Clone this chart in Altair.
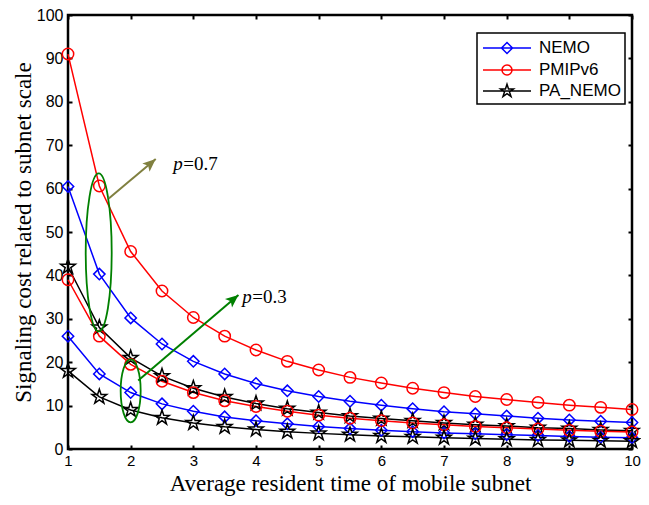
import math
import altair as alt
import pandas as pd

# ---------------- data ----------------
x_vals = [1, 1.5, 2, 2.5, 3, 3.5, 4, 4.5, 5, 5.5, 6, 6.5, 7, 7.5, 8, 8.5, 9, 9.5, 10]
methods = ["NEMO", "PMIPv6", "PA_NEMO"]
colors = ["#0000FF", "#FF0000", "#000000"]

nemo_p07 = [60.5, 40.3, 30.2, 24.2, 20.2, 17.3, 15.1, 13.4, 12.1, 11.0, 10.1, 9.3, 8.6, 8.1, 7.6, 7.1, 6.7, 6.4, 6.1]
pmip_p07 = [91.0, 60.6, 45.5, 36.4, 30.3, 26.0, 22.8, 20.2, 18.2, 16.5, 15.2, 14.0, 13.0, 12.1, 11.4, 10.7, 10.1, 9.6, 9.1]
pa_p07 = [42.0, 28.0, 21.0, 16.8, 14.0, 12.0, 10.5, 9.3, 8.4, 7.6, 7.0, 6.5, 6.0, 5.6, 5.3, 4.9, 4.7, 4.4, 4.2]
nemo_p03 = [26.0, 17.3, 13.0, 10.4, 8.7, 7.4, 6.5, 5.8, 5.2, 4.7, 4.3, 4.0, 3.7, 3.5, 3.3, 3.1, 2.9, 2.7, 2.6]
pmip_p03 = [39.0, 26.0, 19.5, 15.6, 13.0, 11.1, 9.8, 8.7, 7.8, 7.1, 6.5, 6.0, 5.6, 5.2, 4.9, 4.6, 4.3, 4.1, 3.9]
pa_p03 = [18.0, 12.0, 9.0, 7.2, 6.0, 5.1, 4.5, 4.0, 3.6, 3.3, 3.0, 2.8, 2.6, 2.4, 2.25, 2.1, 2.0, 1.9, 1.8]

x_ticks = [1, 2, 3, 4, 5, 6, 7, 8, 9, 10]
y_ticks = [0, 10, 20, 30, 40, 50, 60, 70, 80, 90, 100]

# annotations (data coordinates)
ell_x = [1.49, 2.0]
ell_y = [45.3, 13.4]
arrow_x = [1.65, 2.12]
arrow_y = [57.7, 15.8]
arrow_x2 = [2.40, 3.72]
arrow_y2 = [66.8, 35.5]
arrow_col = ["#808040", "#008000"]
label_x = [2.68, 3.78]
label_y = [65.7, 35.0]
label_txt = ["=0.7", "=0.3"]

series = [
    ("NEMO", "0.7", nemo_p07), ("PMIPv6", "0.7", pmip_p07), ("PA_NEMO", "0.7", pa_p07),
    ("NEMO", "0.3", nemo_p03), ("PMIPv6", "0.3", pmip_p03), ("PA_NEMO", "0.3", pa_p03),
]
rows = []
for m, p, vals in series:
    for xv, yv in zip(x_vals, vals):
        rows.append({"x": xv, "y": yv, "method": m, "p": p, "series": m + " p=" + p})
df = pd.DataFrame(rows)


# ---------------- shapes ----------------
def star_path(r_out, r_in):
    pts = []
    for i in range(10):
        ang = math.radians(-90 + 36 * i)
        r = r_out if i % 2 == 0 else r_in
        pts.append(f"{r * math.cos(ang):.3f},{r * math.sin(ang):.3f}")
    return "M" + "L".join(pts) + "Z"


def ellipse_path(rx, ry):
    k = 0.5523
    return (f"M0,{-ry}C{k*rx:.3f},{-ry} {rx},{-k*ry:.3f} {rx},0"
            f"C{rx},{k*ry:.3f} {k*rx:.3f},{ry} 0,{ry}"
            f"C{-k*rx:.3f},{ry} {-rx},{k*ry:.3f} {-rx},0"
            f"C{-rx},{-k*ry:.3f} {-k*rx:.3f},{-ry} 0,{-ry}Z")


point_shapes = ["diamond", "circle", star_path(1.35, 0.52)]
line_seg = "M-2.4,0L2.4,0"
legend_shapes = [
    line_seg + "M0,-0.55L0.55,0L0,0.55L-0.55,0Z",
    line_seg + ellipse_path(0.5, 0.5),
    line_seg + star_path(0.68, 0.26),
]
arrow_head = "M0,0L5.5,13L0,10L-5.5,13Z"

xs = alt.Scale(domain=[1, 10], nice=False, zero=False)
ys = alt.Scale(domain=[0, 100], nice=False, zero=False)

tick_common = dict(offset=-4, tickSize=4, tickWidth=2, tickColor="black",
                   domain=False, grid=False, labelFlush=False, labelOverlap=False)

x_bottom = alt.Axis(orient="bottom", values=x_ticks, labelPadding=4,
                    labelFont="Liberation Sans", labelFontSize=15, labelColor="black",
                    title="Average resident time of mobile subnet", titleFont="Liberation Serif",
                    titleFontSize=23, titleFontWeight="normal", titleColor="black", titlePadding=4,
                    **tick_common)
y_left = alt.Axis(orient="left", values=y_ticks, labelPadding=5,
                  labelFont="Liberation Sans", labelFontSize=16, labelColor="black",
                  title="Signaling cost related to subnet scale", titleFont="Liberation Serif",
                  titleFontSize=23, titleFontWeight="normal", titleColor="black", titlePadding=1,
                  **tick_common)
x_top = alt.Axis(orient="top", values=x_ticks, labels=False, title=None, **tick_common)
y_right = alt.Axis(orient="right", values=y_ticks, labels=False, title=None, **tick_common)

color_scale = alt.Scale(domain=methods, range=colors)

lines = alt.Chart(df).mark_line(strokeWidth=1.5).encode(
    x=alt.X("x:Q", scale=xs, axis=x_bottom),
    y=alt.Y("y:Q", scale=ys, axis=y_left),
    color=alt.Color("method:N", scale=color_scale, legend=None),
    detail="series:N",
)

points = alt.Chart(df).mark_point(filled=False, opacity=1, strokeWidth=1.5, size=130).encode(
    x=alt.X("x:Q", scale=xs, axis=x_top),
    y=alt.Y("y:Q", scale=ys, axis=y_right),
    color=alt.Color("method:N", scale=color_scale, legend=None),
    shape=alt.Shape("method:N", scale=alt.Scale(domain=methods, range=point_shapes), legend=None),
)

leg = dict(title=None, orient="none", legendX=409, legendY=18, padding=4,
           symbolOffset=15, labelOffset=21, rowPadding=2, symbolSize=400,
           symbolStrokeWidth=1.5, labelFont="Liberation Sans", labelFontSize=17,
           labelColor="black", strokeColor="black", fillColor="white",
           labelExpr="datum.label + '  '")

legend_layer = alt.Chart(df).transform_filter("datum.x > 100").mark_point(
    filled=False, opacity=1, strokeWidth=1.5).encode(
    x=alt.X("x:Q", scale=xs, axis=None),
    y=alt.Y("y:Q", scale=ys, axis=None),
    color=alt.Color("method:N", scale=color_scale, legend=alt.Legend(**leg)),
    shape=alt.Shape("method:N", scale=alt.Scale(domain=methods, range=legend_shapes),
                    legend=alt.Legend(**leg)),
)

ann = pd.DataFrame({"ex": ell_x, "ey": ell_y, "ax": arrow_x, "ay": arrow_y,
                    "ax2": arrow_x2, "ay2": arrow_y2, "col": arrow_col,
                    "lx": label_x, "ly": label_y, "lt": label_txt})

ell1 = alt.Chart(ann.iloc[[0]]).mark_point(
    shape=ellipse_path(13, 79), size=4, filled=False, stroke="#008000", strokeWidth=1.8, opacity=1
).encode(x=alt.X("ex:Q", scale=xs, axis=None), y=alt.Y("ey:Q", scale=ys, axis=None))
ell2 = alt.Chart(ann.iloc[[1]]).mark_point(
    shape=ellipse_path(10, 31.5), size=4, filled=False, stroke="#008000", strokeWidth=1.8, opacity=1
).encode(x=alt.X("ex:Q", scale=xs, axis=None), y=alt.Y("ey:Q", scale=ys, axis=None))

arrows = alt.Chart(ann).mark_rule(strokeWidth=2).encode(
    x=alt.X("ax:Q", scale=xs, axis=None), y=alt.Y("ay:Q", scale=ys, axis=None),
    x2="ax2:Q", y2="ay2:Q",
    color=alt.Color("col:N", scale=None, legend=None),
)
head1 = alt.Chart(ann.iloc[[0]]).mark_point(
    shape=arrow_head, size=4, filled=True, opacity=1, angle=49, color="#808040", strokeWidth=0
).encode(x=alt.X("ax2:Q", scale=xs, axis=None), y=alt.Y("ay2:Q", scale=ys, axis=None))
head2 = alt.Chart(ann.iloc[[1]]).mark_point(
    shape=arrow_head, size=4, filled=True, opacity=1, angle=50, color="#008000", strokeWidth=0
).encode(x=alt.X("ax2:Q", scale=xs, axis=None), y=alt.Y("ay2:Q", scale=ys, axis=None))

txt_p = alt.Chart(ann).mark_text(
    text="p", align="left", baseline="middle", font="Liberation Serif", fontSize=19,
    fontStyle="italic", color="black"
).encode(x=alt.X("lx:Q", scale=xs, axis=None), y=alt.Y("ly:Q", scale=ys, axis=None))
txt_v = alt.Chart(ann).mark_text(
    align="left", baseline="middle", font="Liberation Serif", fontSize=19, dx=10, color="black"
).encode(x=alt.X("lx:Q", scale=xs, axis=None), y=alt.Y("ly:Q", scale=ys, axis=None), text="lt:N")

chart = alt.layer(
    lines, points, ell1, ell2, arrows, head1, head2, txt_p, txt_v, legend_layer
).resolve_scale(
    color="independent", shape="independent"
).resolve_axis(
    x="independent", y="independent"
).properties(
    width=564, height=434,
    autosize=alt.AutoSizeParams(type="none"),
    padding={"left": 60, "top": 7, "right": 9, "bottom": 48},
    background="white",
).configure_view(
    stroke="black", strokeWidth=2.5
).configure_legend(
    strokeWidth=1.5
)

chart.save("out.html", embed_options={"renderer": "svg", "actions": False})
